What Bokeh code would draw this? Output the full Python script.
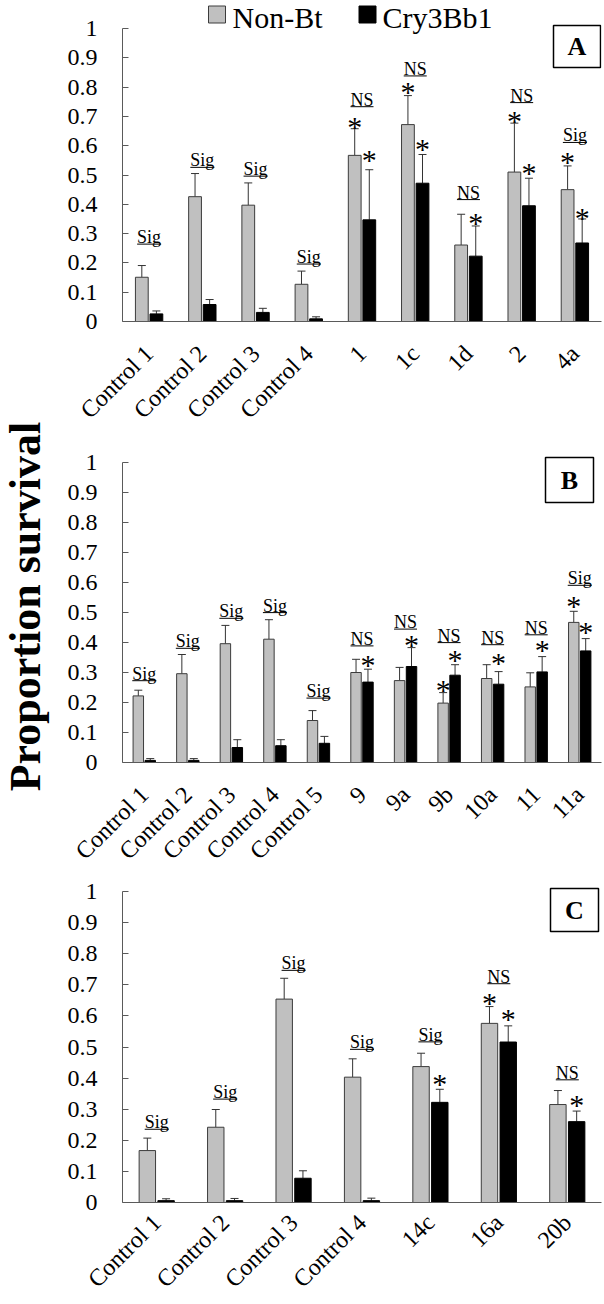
import math
from bokeh.plotting import figure
from bokeh.layouts import column, row
from bokeh.models import Range1d, FixedTicker, ColumnDataSource
from bokeh.core.properties import value
from bokeh.embed import file_html
from bokeh.resources import INLINE

# ---------------- data ----------------
series_names = ["Non-Bt", "Cry3Bb1"]
y_ticks = [0, 0.1, 0.2, 0.3, 0.4, 0.5, 0.6, 0.7, 0.8, 0.9, 1]
y_tick_labels = ["0", "0.1", "0.2", "0.3", "0.4", "0.5", "0.6", "0.7", "0.8", "0.9", "1"]
y_axis_title = "Proportion survival"

a_categories = ["Control 1", "Control 2", "Control 3", "Control 4", "1", "1c", "1d", "2", "4a"]
a_nonbt = [0.151, 0.426, 0.397, 0.127, 0.567, 0.672, 0.261, 0.510, 0.450]
a_nonbt_err = [0.040, 0.079, 0.076, 0.045, 0.091, 0.099, 0.105, 0.167, 0.081]
a_cry = [0.026, 0.058, 0.031, 0.009, 0.347, 0.472, 0.223, 0.395, 0.268]
a_cry_err = [0.010, 0.017, 0.014, 0.007, 0.171, 0.098, 0.103, 0.094, 0.082]
a_test = ["Sig", "Sig", "Sig", "Sig", "NS", "NS", "NS", "NS", "Sig"]
a_test_y = [0.288, 0.550, 0.520, 0.220, 0.757, 0.862, 0.440, 0.771, 0.635]
a_star_nonbt = [None, None, None, None, 0.680, 0.797, None, 0.700, 0.561]
a_star_cry = [None, None, None, None, 0.567, 0.604, 0.350, 0.521, 0.370]

b_categories = ["Control 1", "Control 2", "Control 3", "Control 4", "Control 5",
                "9", "9a", "9b", "10a", "11", "11a"]
b_nonbt = [0.222, 0.296, 0.396, 0.411, 0.140, 0.300, 0.273, 0.198, 0.280, 0.252, 0.467]
b_nonbt_err = [0.019, 0.064, 0.061, 0.065, 0.033, 0.044, 0.044, 0.035, 0.046, 0.047, 0.037]
b_cry = [0.007, 0.007, 0.050, 0.056, 0.064, 0.268, 0.320, 0.291, 0.261, 0.302, 0.372]
b_cry_err = [0.006, 0.006, 0.026, 0.020, 0.023, 0.043, 0.063, 0.035, 0.042, 0.051, 0.041]
b_test = ["Sig", "Sig", "Sig", "Sig", "Sig", "NS", "NS", "NS", "NS", "NS", "Sig"]
b_test_y = [0.296, 0.404, 0.504, 0.523, 0.238, 0.412, 0.468, 0.423, 0.416, 0.449, 0.614]
b_star_nonbt = [None, None, None, None, None, None, None, 0.256, None, None, 0.538]
b_star_cry = [None, None, None, None, None, 0.339, 0.407, 0.356, 0.347, 0.389, 0.451]

c_categories = ["Control 1", "Control 2", "Control 3", "Control 4", "14c", "16a", "20b"]
c_nonbt = [0.167, 0.242, 0.654, 0.403, 0.437, 0.576, 0.315]
c_nonbt_err = [0.040, 0.057, 0.067, 0.059, 0.043, 0.054, 0.045]
c_cry = [0.006, 0.006, 0.078, 0.006, 0.322, 0.516, 0.260]
c_cry_err = [0.006, 0.007, 0.024, 0.008, 0.042, 0.052, 0.034]
c_test = ["Sig", "Sig", "Sig", "Sig", "Sig", "NS", "NS"]
c_test_y = [0.258, 0.355, 0.769, 0.515, 0.539, 0.726, 0.417]
c_star_nonbt = [None, None, None, None, None, 0.657, None]
c_star_cry = [None, None, None, None, 0.394, 0.603, 0.328]

# ---------------- style / layout ----------------
SERIF = "Liberation Serif"
GREY = "#c0c0c0"
GREY_LINE = "#3c3c3c"
AXIS = "#5a5a5a"
ERR = "#333333"
PAGE_W, PAGE_H = 604, 1304
LAB_W = 56                      # strip that holds the y-axis title
FIG_W = PAGE_W - LAB_W
LEFT = 122 - LAB_W              # frame starts at page x = 122
RIGHT = 3
FRAME_W = FIG_W - LEFT - RIGHT
FRAME_X0 = LAB_W + LEFT
BAR_W = 0.24
OFF = 0.137
UNDERLINE_PX = {"Sig": 24, "NS": 23}


def make_panel(cats, nb, nb_err, cr, cr_err, tests, test_y, star_nb, star_cr,
               letter, page_top, top_px, unit_px, bottom_px, box_px, label_standoff,
               legend=False):
    n = len(cats)
    height = top_px + unit_px + bottom_px
    y0_page = page_top + top_px + unit_px
    ppu = FRAME_W / n

    def xpos(page_x):
        return (page_x - FRAME_X0) / ppu

    def ypos(page_y):
        return (y0_page - page_y) / unit_px

    p = figure(width=FIG_W, height=height,
               x_range=Range1d(0, n), y_range=Range1d(0, 1 + top_px / unit_px),
               output_backend="svg", toolbar_location=None,
               min_border_left=LEFT, min_border_right=RIGHT,
               min_border_top=0, min_border_bottom=bottom_px,
               outline_line_color=None, background_fill_color="white",
               border_fill_color="white")
    p.grid.visible = False

    xc = [i + 0.5 for i in range(n)]
    src = ColumnDataSource(dict(
        xc=xc,
        xg=[x - OFF for x in xc],
        xb=[x + OFF for x in xc],
        nb=nb, cr=cr,
        nb_top=[v + e for v, e in zip(nb, nb_err)],
        cr_top=[v + e for v, e in zip(cr, cr_err)],
    ))
    # error bars (upper half only)
    p.segment(x0="xg", y0="nb", x1="xg", y1="nb_top", line_color=ERR, line_width=1, source=src)
    p.segment(x0="xb", y0="cr", x1="xb", y1="cr_top", line_color=ERR, line_width=1, source=src)
    p.scatter(x="xg", y="nb_top", marker="dash", size=8, line_color=ERR, line_width=1, source=src)
    p.scatter(x="xb", y="cr_top", marker="dash", size=8, line_color=ERR, line_width=1, source=src)
    # bars
    p.vbar(x="xg", top="nb", bottom=0, width=BAR_W, fill_color=GREY,
           line_color=GREY_LINE, line_width=1, source=src)
    p.vbar(x="xb", top="cr", bottom=0, width=BAR_W, fill_color="black",
           line_color="black", line_width=1, source=src)

    # Sig / NS labels, underlined
    tsrc = ColumnDataSource(dict(x=xc, y=test_y, t=tests,
                                 uy=[v - 7 / unit_px for v in test_y],
                                 uw=[UNDERLINE_PX[t] for t in tests]))
    p.text(x="x", y="y", text="t", text_font=value(SERIF), text_font_size="18px",
           text_align="center", text_baseline="middle", text_color="black", source=tsrc)
    p.scatter(x="x", y="uy", marker="dash", size="uw", line_color="black",
              line_width=1, source=tsrc)

    # stars
    sx, sy = [], []
    for x, s in zip(xc, star_nb):
        if s is not None:
            sx.append(x - OFF)
            sy.append(s - 4 / unit_px)
    for x, s in zip(xc, star_cr):
        if s is not None:
            sx.append(x + OFF)
            sy.append(s - 4 / unit_px)
    p.text(x=sx, y=sy, text=["*"] * len(sx), text_font=value(SERIF),
           text_font_size="30px", text_align="center", text_baseline="middle",
           text_color="black")

    # panel letter box
    bx0, by0, bx1, by1 = box_px
    bcx, bcy = xpos((bx0 + bx1) / 2), ypos((by0 + by1) / 2)
    p.rect(x=[bcx], y=[bcy], width=bx1 - bx0, height=by1 - by0, width_units="screen",
           height_units="screen", fill_color="white", line_color="black", line_width=1.5)
    p.text(x=[bcx], y=[bcy], text=[letter], text_font=value(SERIF), text_font_size="26px",
           text_font_style="bold", text_align="center", text_baseline="middle",
           text_color="black")

    if legend:
        sq_y = ypos(14)
        tx_y = ypos(17)
        p.rect(x=[xpos(216.5), xpos(367)], y=[sq_y, sq_y], width=17, height=17,
               width_units="screen", height_units="screen", fill_color=[GREY, "black"],
               line_color=[GREY_LINE, "black"], line_width=1)
        p.text(x=[xpos(232), xpos(382)], y=[tx_y, tx_y], text=series_names,
               text_font=value(SERIF), text_font_size="30px", text_align="left",
               text_baseline="middle", text_color="black")

    # axes
    ya = p.yaxis[0]
    ya.ticker = FixedTicker(ticks=y_ticks)
    ya.major_label_overrides = dict(zip(y_ticks, y_tick_labels))
    ya.bounds = (0, 1)
    ya.major_tick_in = 6
    ya.major_tick_out = 0
    ya.minor_tick_in = 0
    ya.minor_tick_out = 0
    ya.axis_line_color = AXIS
    ya.major_tick_line_color = AXIS
    ya.major_label_text_font = SERIF
    ya.major_label_text_font_size = "24px"
    ya.major_label_text_color = "black"
    ya.major_label_standoff = 25

    xa = p.xaxis[0]
    xa.ticker = FixedTicker(ticks=xc)
    xa.major_label_overrides = dict(zip(xc, cats))
    xa.bounds = (0, n)
    xa.major_tick_in = 0
    xa.major_tick_out = 0
    xa.minor_tick_in = 0
    xa.minor_tick_out = 0
    xa.axis_line_color = AXIS
    xa.major_label_orientation = math.pi / 4
    xa.major_label_text_font = SERIF
    xa.major_label_text_font_size = "24px"
    xa.major_label_text_color = "black"
    xa.major_label_standoff = label_standoff
    return p


pA = make_panel(a_categories, a_nonbt, a_nonbt_err, a_cry, a_cry_err, a_test, a_test_y,
                a_star_nonbt, a_star_cry, "A", page_top=0, top_px=28, unit_px=293,
                bottom_px=114, box_px=(553, 25, 600, 67), label_standoff=28, legend=True)
pB = make_panel(b_categories, b_nonbt, b_nonbt_err, b_cry, b_cry_err, b_test, b_test_y,
                b_star_nonbt, b_star_cry, "B", page_top=435, top_px=27, unit_px=300,
                bottom_px=114, box_px=(545, 457, 593, 502), label_standoff=28)
pC = make_panel(c_categories, c_nonbt, c_nonbt_err, c_cry, c_cry_err, c_test, c_test_y,
                c_star_nonbt, c_star_cry, "C", page_top=876, top_px=15, unit_px=311,
                bottom_px=102, box_px=(550, 888, 598, 931), label_standoff=16)

# strip on the left carrying the shared y-axis title
pLab = figure(width=LAB_W, height=PAGE_H, x_range=Range1d(0, LAB_W),
              y_range=Range1d(0, PAGE_H), output_backend="svg", toolbar_location=None,
              min_border=0, x_axis_location=None, y_axis_location=None,
              outline_line_color=None, background_fill_color="white",
              border_fill_color="white")
pLab.grid.visible = False
pLab.text(x=[25], y=[PAGE_H - 606], text=[y_axis_title], angle=math.pi / 2,
          text_font=value(SERIF), text_font_size="44px", text_font_style="bold",
          text_align="center", text_baseline="middle", text_color="black")

layout = row(pLab, column(pA, pB, pC))
open("out.html", "w").write(file_html(layout, INLINE))
